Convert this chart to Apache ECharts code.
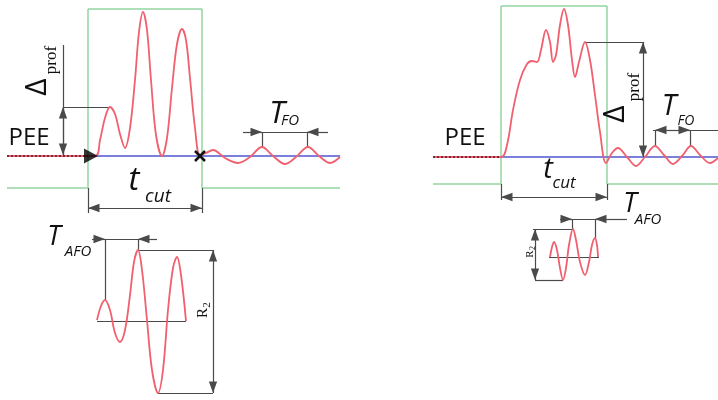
<!DOCTYPE html>
<html><head><meta charset="utf-8">
<script src="https://cdn.jsdelivr.net/npm/echarts@6/dist/echarts.min.js"></script>
<style>html,body{margin:0;padding:0;background:#fff}#c{width:718px;height:400px}</style>
</head><body><div id="c"></div>
<script>
// ---- waveforms (pixel-space coordinates) ----
const leftSignal = [[7,156],[95,156],[100,140],[105,118],[110,107],[115,114],[120,134],[125,148],[130,128],[135,80],[139,32],[143,12],[147,30],[151,80],[156,135],[162,156],[167,138],[172,88],[177,44],[182,29],[186,40],[190,78],[195,128],[200,155],[206,153],[213,150],[225,158],[238,163],[250,157],[262,147],[273,156],[285,164],[296,157],[308,147],[319,156],[330,163],[340,157]];
const rightSignal = [[433,157],[501,157],[507,145],[513,110],[520,80],[527,64],[532,61],[537,62],[541,50],[546,30],[550,42],[553,62],[556,55],[560,25],[564,9],[568,25],[572,60],[575,77],[579,62],[585,42],[590,60],[595,95],[600,132],[606,163],[612,153],[618,148],[627,157],[636,166],[645,157],[655,146],[664,155],[673,164],[682,156],[691,146],[700,155],[710,163],[718,158]];
const leftAfo = [[97,320],[101,306],[105,300],[110,310],[115,333],[120,342],[125,330],[130,295],[134,262],[138,250],[142,270],[147,320],[152,370],[158,393],[163,370],[168,310],[173,268],[177,257],[181,275],[186,321]];
const rightAfo = [[550,257],[552,247],[554,242],[557,250],[560,268],[563,280],[566,268],[569,245],[573,229],[576,240],[580,262],[585,275],[589,262],[592,245],[595,238],[597,245],[598,257]];
const peeLeft = [[7,156],[88,156]];
const peeRight = [[433,157],[500,157]];
const blueLeft = [[88,156],[340,156]];
const blueRight = [[501,157],[718,157]];
// green frames
const greenSegs = [
 [[88,9],[202,9]],[[88,9],[88,188]],[[202,9],[202,188]],[[7,188],[88,188]],[[202,188],[340,188]],
 [[501,6],[607,6]],[[501,6],[501,184]],[[607,6],[607,184]],[[433,184],[501,184]],[[607,184],[718,184]]
];
// plain grey dimension lines
const plainSegs = [
 [[63,45],[63,155]],[[63,107],[110,107]],
 [[88,188],[88,213]],[[202,188],[202,213]],
 [[243,132],[328,132]],[[262,132],[262,147]],[[307,132],[307,147]],
 [[92,239],[157,239]],[[105,239],[105,300]],[[138,239],[138,250]],
 [[138,250],[213,250]],[[158,393],[213,393]],[[97,321],[186,321]],
 [[585,42],[643,42]],
 [[501,184],[501,200]],[[607,184],[607,200]],
 [[653,130],[718,130]],[[655,130],[655,146]],[[690,130],[690,146]],
 [[560,219],[627,219]],[[572,219],[572,229]],[[595,219],[595,238]],
 [[533,229],[573,229]],[[535,280],[563,280]],[[549,257],[599,257]]
];
// arrowed segments (arrow tip at end point)
const arrowSegs = [
 [[63,131],[63,107]],[[63,131],[63,155]],
 [[145,208],[88,208]],[[145,208],[202,208]],
 [[243,132],[262,132]],[[328,132],[307,132]],
 [[92,239],[105,239]],[[157,239],[138,239]],
 [[213,320],[213,250]],[[213,320],[213,393]],
 [[643,100],[643,42]],[[643,100],[643,157]],
 [[554,197],[501,197]],[[554,197],[607,197]],
 [[672,130],[655,130]],[[672,130],[690,130]],
 [[560,219],[572,219]],[[627,219],[595,219]],
 [[535,255],[535,229]],[[535,255],[535,280]]
];
const crossSegs = [[[195,151],[205,161]],[[195,161],[205,151]]];
const bigArrow = [[91,156]];

const chart = echarts.init(document.getElementById('c'), null, {renderer:'canvas'});
const grey = '#4a4a4a';
const red = '#f0606f';
// triangle whose tip sits at the symbol centre (so the tip lands on the segment end), square 20x20 box
const tipArrow = 'path://M10,10L13.6,20L6.4,20ZM0,0L0.01,0.01L0,0.01ZM20,0L19.99,0.01L20,0.01Z';
function segSeries(segs, color, width, arrow, z){
  return {type:'lines', coordinateSystem:'cartesian2d', z:z||3, silent:true,
    symbol: arrow ? ['none',tipArrow] : ['none','none'], symbolSize: arrow ? 23 : 0,
    itemStyle:{color:'#111'},
    lineStyle:{color:color, width:width, opacity:1, curveness:0},
    data: segs.map(s=>({coords:s}))};
}
function curve(data, color, width, z, smooth){
  return {type:'line', data:data, smooth:smooth, showSymbol:false, silent:true, z:z,
    lineStyle:{color:color, width:width}};
}
const T = (text, x, y, size, opts) => Object.assign({type:'text', x:x, y:y, silent:true, z:100,
  style:{text:text, fill:'#111', fontSize:size, fontFamily:'Open Sans', align:'center', verticalAlign:'middle'}}, opts||{});
const it = (o)=>{o.style.fontStyle='italic'; return o;};
const rot = (o)=>{o.rotation=Math.PI/2; return o;};
const serif = (o)=>{o.style.fontFamily='Liberation Serif'; return o;};

chart.setOption({
  animation:false,
  grid:{left:0,right:0,top:0,bottom:0, outerBoundsMode:'none'},
  xAxis:{type:'value', min:0, max:718, show:false},
  yAxis:{type:'value', min:0, max:400, inverse:true, show:false},
  series:[
    segSeries(greenSegs, '#93d4a0', 1.5, false, 1),
    curve(blueLeft, '#7b80dc', 2, 2, false),
    curve(blueRight, '#7b80dc', 2, 2, false),
    curve(leftSignal, red, 1.8, 4, 0.35),
    curve(rightSignal, red, 1.8, 4, 0.35),
    curve(leftAfo, red, 1.8, 4, 0.35),
    curve(rightAfo, red, 1.8, 4, 0.35),
    {type:'line', data:peeLeft, showSymbol:false, silent:true, z:5, lineStyle:{color:'#7a2a38', width:2, type:'dotted'}},
    {type:'line', data:peeRight, showSymbol:false, silent:true, z:5, lineStyle:{color:'#7a2a38', width:2, type:'dotted'}},
    segSeries(plainSegs, grey, 1.2, false, 3),
    segSeries(arrowSegs, grey, 1.2, true, 3),
    segSeries(crossSegs, '#111', 2.5, false, 6),
    {type:'scatter', data:bigArrow, symbol:'triangle', symbolRotate:-90, symbolSize:[15,14], silent:true, z:6, itemStyle:{color:'#000'}}
  ],
  graphic:[
    T('PEE', 29, 138, 24),
    T('PEE', 465, 138, 24),
    rot(T('Δ', 37, 87, 30)),
    serif(rot(T('prof', 52, 60, 17))),
    rot(T('Δ', 615, 114, 30)),
    serif(rot(T('prof', 635, 87, 17))),
    it(T('T', 277, 114, 31)),
    it(T('FO', 290, 121, 15)),
    it(T('T', 669, 107, 29)),
    it(T('FO', 686, 121, 14)),
    it(T('t', 134, 181, 33)),
    it(T('cut', 158, 197, 19)),
    it(T('t', 548, 170, 29)),
    it(T('cut', 564, 183, 17)),
    it(T('T', 54, 237, 27)),
    it(T('AFO', 78, 252, 15)),
    it(T('T', 630, 204, 27)),
    it(T('AFO', 648, 220, 15)),
    serif(rot(T('R', 203, 313, 15))),
    serif(rot(T('2', 207, 305, 11))),
    serif(rot(T('R', 530, 254, 11))),
    serif(rot(T('2', 533, 248, 8)))
  ]
});
</script></body></html>
